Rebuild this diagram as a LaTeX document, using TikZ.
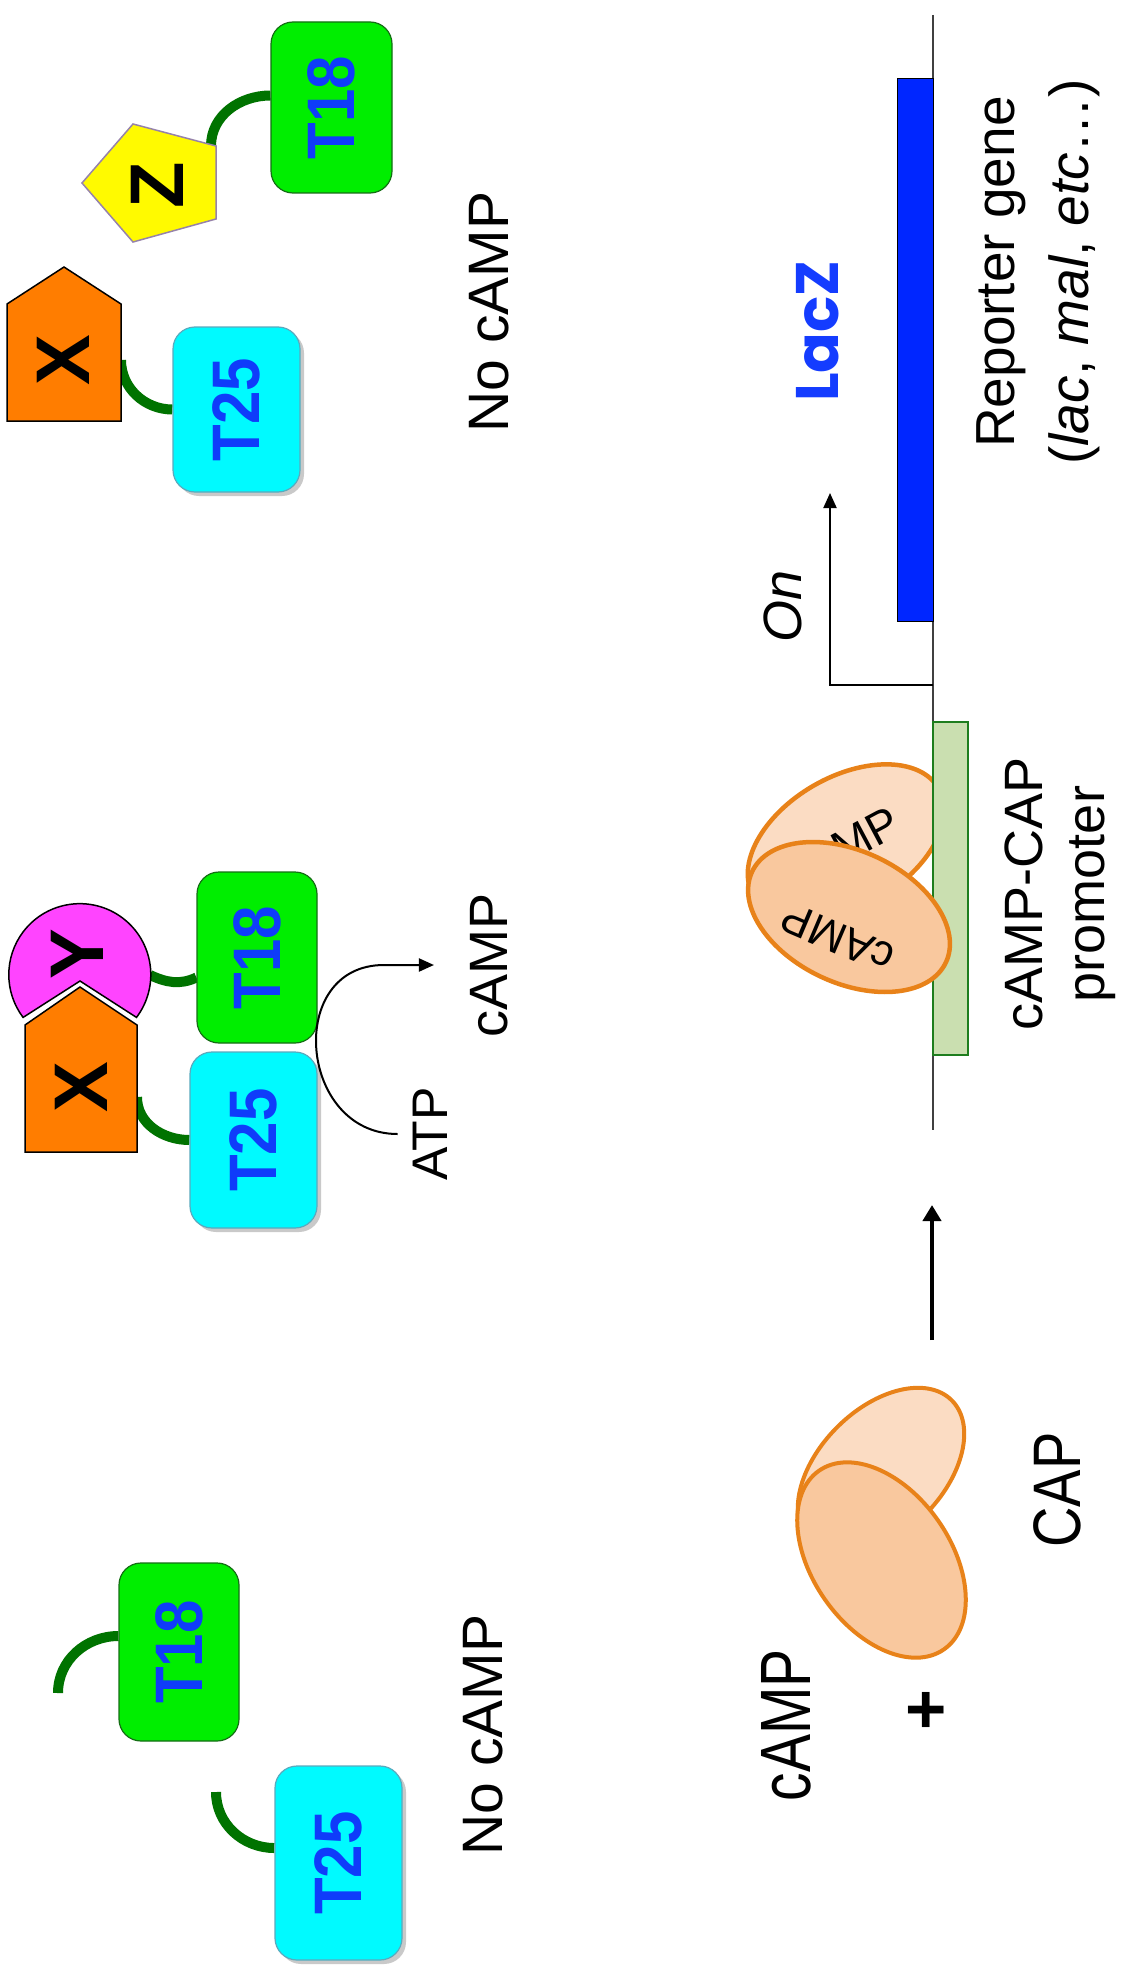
\documentclass[tikz,border=0pt]{standalone}
\usepackage{fontspec}
\usepackage{graphicx}
\setmainfont{Liberation Sans}
\setsansfont{Liberation Sans}
\newfontfamily\laczfont{Poppins}
\usetikzlibrary{arrows.meta,shapes.geometric,shadows}
\pgfdeclarelayer{bg}
\pgfdeclarelayer{back}
\pgfsetlayers{bg,back,main}

\definecolor{tcyan}{RGB}{0,250,255}
\definecolor{tcyanline}{RGB}{90,170,190}
\definecolor{tgreen}{RGB}{0,238,0}
\definecolor{tgreenline}{RGB}{20,110,20}
\definecolor{tblue}{RGB}{15,60,250}
\definecolor{linkgreen}{RGB}{0,115,0}
\definecolor{xorange}{RGB}{255,125,0}
\definecolor{ymag}{RGB}{255,68,255}
\definecolor{zyel}{RGB}{255,250,0}
\definecolor{zline}{RGB}{150,130,170}
\definecolor{capline}{RGB}{232,130,25}
\definecolor{capfront}{RGB}{249,200,158}
\definecolor{capback}{RGB}{251,220,195}
\definecolor{genblue}{RGB}{0,38,255}
\definecolor{promfill}{RGB}{202,223,176}
\definecolor{promline}{RGB}{30,125,30}
\definecolor{laczblue}{RGB}{20,60,255}

\newcommand\tlab[1]{\rotatebox{90}{\scalebox{1}[1.12]{\fontsize{60}{60}\selectfont\bfseries #1}}}

\begin{document}
\begin{tikzpicture}[x=1pt,y=-1pt,
  tbox/.style={rectangle, rounded corners=22pt, inner sep=0pt, line width=1.2pt, text=tblue},
  t25/.style={tbox, fill=tcyan, draw=tcyanline, drop shadow={shadow xshift=4pt, shadow yshift=-4pt, opacity=0.35, fill=black!60}},
  t18/.style={tbox, fill=tgreen, draw=tgreenline},
  link/.style={draw=linkgreen, line width=10pt},
  lbl/.style={rotate=90, inner sep=0pt, font=\fontsize{54}{62}\selectfont},
  letter/.style={rotate=90, inner sep=0pt, font=\fontsize{76}{76}\selectfont\bfseries},
  xshape/.style={fill=xorange, draw=black, line width=1.5pt, line join=miter},
  yshape/.style={fill=ymag, draw=black, line width=1.5pt},
  zshape/.style={fill=zyel, draw=zline, line width=1.5pt},
  capell/.style={ellipse, draw=capline, line width=4.5pt, inner sep=0pt},
  thinarrow/.style={line width=2pt, -{Triangle[length=15pt,width=13pt]}},
  dna/.style={draw=black!75, line width=2pt}
]
\begin{pgfonlayer}{bg}
\fill[white] (0,0) rectangle (1136,1977);
\end{pgfonlayer}
\useasboundingbox (0,0) rectangle (1136,1977);

% ---------- top group (no interaction) ----------
\node[t18, minimum width=121pt, minimum height=171pt] (t18a) at (331.5,107.5) {\tlab{T18}};
\draw[zshape] (82,183) -- (133,124) -- (216,146) -- (216,219) -- (133,242) -- cycle;
\node[letter] (zl) at (157,185) {Z};
\coordinate (zc) at (211,146);
\draw[xshape] (7,421) -- (7,304) -- (64,267) -- (121,304) -- (121,421) -- cycle;
\node[letter] (xl1) at (63,360) {X};
\node[t25, minimum width=127pt, minimum height=165pt] (t25a) at (236.5,409.5) {\tlab{T25}};
\coordinate (xa) at (121,360);
\begin{pgfonlayer}{back}
\draw[link] (zc) to[out=90,in=180] ([yshift=12pt]t18a.west);
\draw[link] (xa) to[out=-90,in=180] (t25a.west);
\end{pgfonlayer}
\node[lbl, font=\fontsize{57}{57}\selectfont] (nocamp1) at (489,312) {No cAMP};

% ---------- middle group (interaction) ----------
\node[t18, minimum width=120pt, minimum height=171pt] (t18b) at (257,957.5) {\tlab{T18}};
\node[t25, minimum width=127pt, minimum height=176pt] (t25b) at (253.5,1140) {\tlab{T25}};
\draw[yshape] (136.5,1017.4) arc[start angle=-37, end angle=217, radius=71pt] -- (80,981) -- cycle;
\node[letter] (yl) at (77,954) {Y};
\draw[xshape] (25,1152) -- (25,1025) -- (80,987) -- (137,1025) -- (137,1152) -- cycle;
\node[letter] (xl2) at (81,1087) {X};
\coordinate (yb) at (150,975);
\coordinate (xb) at (137,1097);
\begin{pgfonlayer}{back}
\draw[link] (yb) to[out=-25,in=205] ([yshift=-20pt]t18b.west);
\draw[link] (xb) to[out=-90,in=180] (t25b.west);
\end{pgfonlayer}
\node[lbl, font=\fontsize{50}{50}\selectfont] (atp) at (430,1134) {ATP};
\node[lbl] (campm) at (489,965) {cAMP};
\coordinate (atpS) at ([xshift=-15pt]atp.north);
\coordinate (campT) at ([xshift=-36pt]campm.north);
\draw[thinarrow] (atpS) to[out=180,in=180,looseness=1.5] ([xshift=-50pt]campT) -- (campT);

% ---------- bottom group (no interaction) ----------
\node[t18, minimum width=120pt, minimum height=178pt] (t18c) at (179,1652) {\tlab{T18}};
\node[t25, minimum width=127pt, minimum height=194pt] (t25c) at (338.5,1863) {\tlab{T25}};
\coordinate (e18) at (58,1693);
\coordinate (e25) at (216,1792);
\begin{pgfonlayer}{back}
\draw[link] ([yshift=16pt]t18c.west) to[out=180,in=90] (e18);
\draw[link] (e25) to[out=-90,in=180] ([yshift=15pt]t25c.west);
\end{pgfonlayer}
\node[lbl, font=\fontsize{57}{57}\selectfont] (nocamp2) at (483,1735) {No cAMP};

% ---------- DNA / reporter ----------
\coordinate (dnaT) at (933,15);
\coordinate (dnaB) at (933,1130);
\draw[dna] (dnaT) -- (dnaB);
\node[draw=black, fill=genblue, line width=1pt, minimum width=36pt, minimum height=543pt, inner sep=0pt] (gene) at (915,350) {};
\node[rotate=90, inner sep=0pt, text=laczblue, font={\laczfont\bfseries\fontsize{60}{60}\selectfont}] (laczl) at (818,331) {LacZ};
\node[lbl, align=center, font=\fontsize{55}{74}\selectfont] (rep) at (1038,272) {Reporter gene\\(\textit{lac}, \textit{mal}, \textit{etc}…)};
\coordinate (tss) at (933,685);
\coordinate (ontip) at (830,493);
\draw[thinarrow] (tss) -| (ontip);
\node[lbl, font=\fontsize{54}{54}\selectfont\itshape] (onl) at (783,606) {On};

% cAMP-CAP complex on promoter
\node[capell, fill=capback, minimum width=214pt, minimum height=130pt, rotate=30] (cxb) at (846,842) {};
\node[rotate=28, inner sep=0pt, font=\fontsize{46}{46}\selectfont] (cxbl) at (842,848) {cAMP};
\node[draw=promline, fill=promfill, line width=1.2pt, minimum width=35pt, minimum height=333pt, inner sep=0pt] (prom) at (950.5,888.5) {};
\node[capell, fill=capfront, minimum width=214pt, minimum height=132pt, rotate=-25] (cxf) at (849,917) {};
\node[rotate=157, inner sep=0pt, font=\fontsize{44}{44}\selectfont] (cxfl) at (838,938) {cAMP};
\node[lbl, align=center, font=\fontsize{54}{62}\selectfont] (proml) at (1060,894) {cAMP-CAP\\promoter};

% free CAP
\node[capell, line width=4pt, fill=capback, minimum width=200pt, minimum height=124pt, rotate=45] (capb) at (881,1471) {};
\node[capell, line width=4pt, fill=capfront, minimum width=218pt, minimum height=138pt, rotate=-55] (capf) at (881.5,1560) {};
\node[lbl, font=\fontsize{56}{56}\selectfont] (capl) at (1057,1490) {\scalebox{1}[1.2]{CAP}};
\coordinate (arS) at (932,1340);
\coordinate (arE) at (932,1205);
\draw[line width=4pt, -{Triangle[length=16pt,width=18pt]}] (arS) -- (arE);
\node[lbl, font=\fontsize{57}{57}\selectfont] (campb) at (786,1725) {\scalebox{1}[1.25]{cAMP}};
\node[rotate=90, inner sep=0pt, font=\fontsize{70}{70}\selectfont\bfseries] (plus) at (929,1710) {+};
\end{tikzpicture}
\end{document}
